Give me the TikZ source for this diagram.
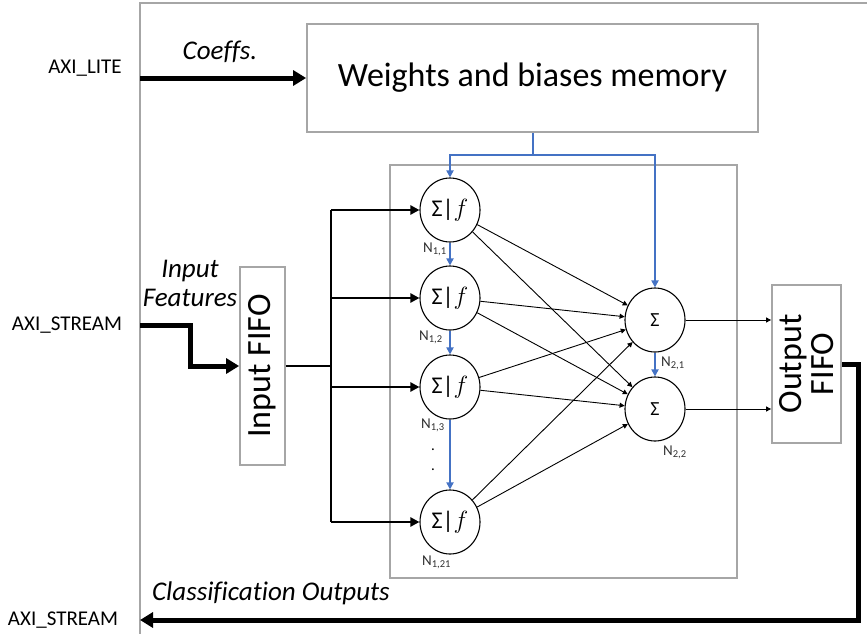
\documentclass[tikz,border=0pt]{standalone}
\usepackage{fontspec}
\setmainfont{Carlito}[Ligatures=NoCommon]
\usetikzlibrary{arrows.meta,shapes.geometric}
\definecolor{boxgray}{HTML}{A6A6A6}
\definecolor{linkblue}{HTML}{4472C4}
\definecolor{labelgray}{HTML}{303030}

\newcommand{\fs}[1]{\fontsize{#1}{#1}\selectfont}

\begin{document}
\begin{tikzpicture}[x=1pt,y=-1pt,
  graybox/.style={draw=boxgray, line width=1.8pt, inner sep=0pt},
  neuron/.style={draw, ellipse, line width=1.1pt, minimum width=60pt, minimum height=64pt, inner sep=0pt, fill=white},
  bigtext/.style={font=\fs{34}},
  axilabel/.style={font=\fs{21}},
  flowlabel/.style={font=\fs{27}\itshape},
  nlabel/.style={font=\fs{15}, text=labelgray, inner sep=0pt, anchor=west},
  busarrow/.style={line width=5pt, -{Triangle[length=13pt,width=15pt]}},
  feedline/.style={line width=2.6pt},
  feedarrow/.style={line width=2.6pt, -{Triangle[length=9pt,width=9pt]}},
  conn/.style={line width=0.9pt, -{Triangle[length=5pt,width=5pt]}},
  bluearrow/.style={draw=linkblue, line width=2pt, -{Triangle[length=7pt,width=7pt]}},
  blueline/.style={draw=linkblue, line width=2pt}
]
\useasboundingbox (0,0) rectangle (867,634);

% enclosing block (left and top edges)
\draw[boxgray, line width=1.8pt] (867,3) -- (140,3) -- (140,634);

% memory, hidden layer area and FIFOs
\node[graybox, minimum width=451pt, minimum height=108pt, bigtext] (mem) at (532.5,78) {Weights and biases memory};
\node[graybox, minimum width=347pt, minimum height=413pt] (hid) at (563.5,371.5) {};
\node[graybox, minimum width=45pt, minimum height=198pt] (infifo) at (262.5,366) {};
\node[bigtext, rotate=90] (infifotxt) at (infifo.center) {Input FIFO};
\node[graybox, minimum width=69pt, minimum height=158pt] (outfifo) at (806.5,364) {};
\node[bigtext, rotate=90, align=center, inner sep=0pt] (outfifotxt) at (outfifo.center) {Output\\[-2pt]FIFO};

% first layer neurons
\node[neuron, font=\fs{24}] (n11)  at (450,210) {Σ|$f$};
\node[neuron, font=\fs{24}] (n12)  at (450,298) {Σ|$f$};
\node[neuron, font=\fs{24}] (n13)  at (450,387) {Σ|$f$};
\node[neuron, font=\fs{24}] (n121) at (450,522) {Σ|$f$};
% second layer neurons
\node[neuron, font=\fs{20}] (n21) at (655,320) {Σ};
\node[neuron, font=\fs{20}] (n22) at (655,409) {Σ};

% neuron labels
\node[nlabel] (l11)  at (423,249) {N\textsubscript{1,1}};
\node[nlabel] (l12)  at (419,337) {N\textsubscript{1,2}};
\node[nlabel] (l13)  at (421,425) {N\textsubscript{1,3}};
\node[nlabel] (l121) at (422,562) {N\textsubscript{1,21}};
\node[nlabel] (l21)  at (661,363) {N\textsubscript{2,1}};
\node[nlabel] (l22)  at (663,452) {N\textsubscript{2,2}};
\node[font=\fs{15}, inner sep=0pt] (dot1) at (433,450) {.};
\node[font=\fs{15}, inner sep=0pt] (dot2) at (433,470) {.};

% external interface labels
\node[axilabel] (axilite) at (85,68) {AXI\_LITE};
\node[axilabel] (axiin)   at (67,325) {AXI\_STREAM};
\node[axilabel] (axiout)  at (63,620) {AXI\_STREAM};
\node[flowlabel] (coeffs) at (220,52) {Coeffs.};
\node[flowlabel, align=center] (features) at (190,283) {Input\\[2pt]Features};
\node[flowlabel] (classout) at (271,593) {Classification Outputs};

% ports on the enclosing block
\coordinate (litein) at (140,78);
\coordinate (strin)  at (140,325);
\coordinate (strout) at (140,620);

% coefficient path
\draw[busarrow] (litein) -- (mem.west);

% input stream into the FIFO
\draw[busarrow] (strin) -- ++(50,0) |- (infifo.west);

% FIFO fan-out bus
\coordinate (bus) at (331,366);
\draw[feedline] (infifo.east) -- (bus);
\draw[feedline] (bus |- n11) -- (bus |- n121);
\foreach \n in {n11,n12,n13,n121}
  \draw[feedarrow] (bus |- \n) -- (\n);

% weight distribution
\draw[blueline] (mem.south) -- ++(0,22) coordinate (wtap);
\draw[bluearrow] (wtap) -| (n11);
\draw[bluearrow] (wtap) -| (n21);
\draw[bluearrow] (n11) -- (n12);
\draw[bluearrow] (n12) -- (n13);
\draw[bluearrow] (n13) -- (n121);
\draw[bluearrow] (n21) -- (n22);

% layer-to-layer connections
\foreach \a in {n11,n12,n13,n121}
  \foreach \b in {n21,n22}
    \draw[conn] (\a) -- (\b);

% outputs to the FIFO
\draw[conn] (n21) -- (outfifo.west |- n21);
\draw[conn] (n22) -- (outfifo.west |- n22);

% classification results back out
\draw[busarrow] (outfifo.east) -- ++(17,0) |- (strout);
\end{tikzpicture}
\end{document}
